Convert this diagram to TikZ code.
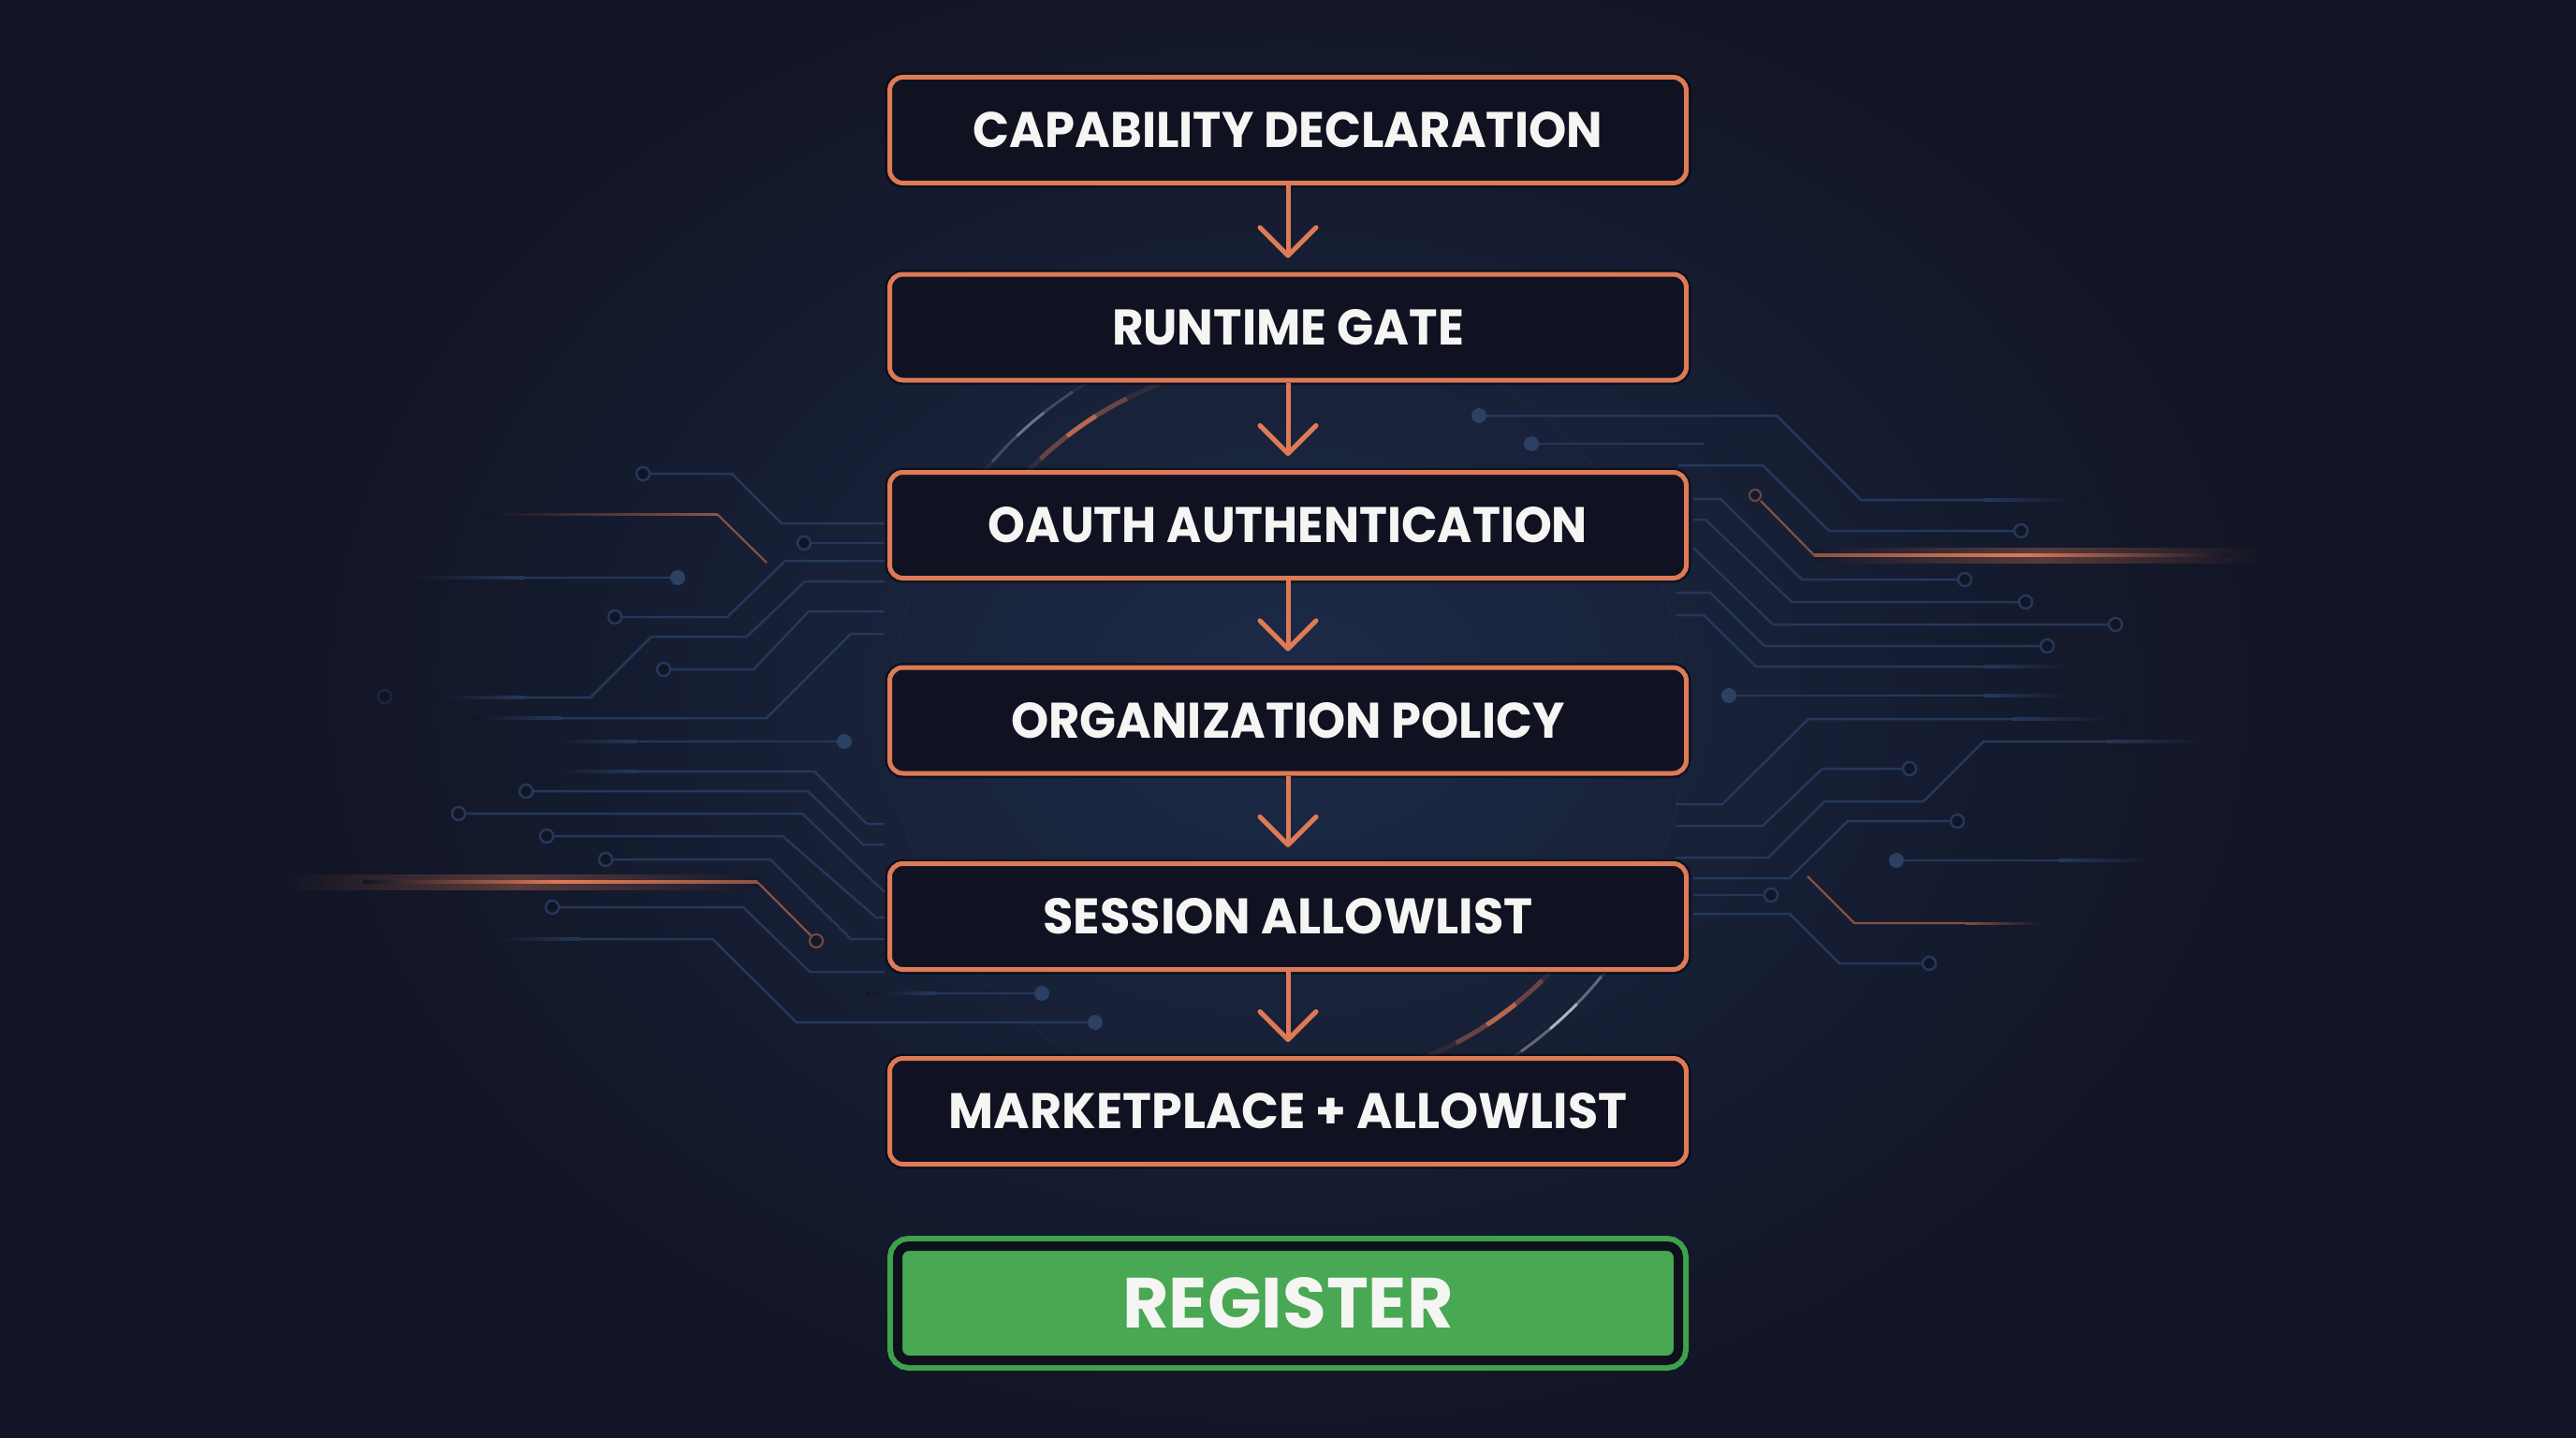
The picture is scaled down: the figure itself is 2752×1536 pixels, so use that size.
\documentclass[tikz,border=0pt]{standalone}
\usepackage{fontspec}
\usepackage{graphicx}
\setmainfont{Poppins}
\usetikzlibrary{arrows.meta}
\definecolor{bg}{RGB}{18,21,37}
\definecolor{boxfill}{RGB}{16,18,33}
\definecolor{glow}{RGB}{28,43,72}
\definecolor{orng}{RGB}{222,122,86}
\definecolor{trace}{RGB}{37,56,90}
\definecolor{dotc}{RGB}{44,64,100}
\definecolor{grn}{RGB}{72,168,83}
\definecolor{grnb}{RGB}{62,162,76}
\definecolor{gapc}{RGB}{14,16,30}
\definecolor{txt}{RGB}{245,245,243}
\newcommand\lab[3]{\resizebox{#1pt}{#2pt}{\bfseries #3}}
\newcommand\ltail[3]{\shade[left color=bg,right color=trace] (#1,{#3-1.25}) rectangle (#2,{#3+1.25});}
\newcommand\rtail[3]{\shade[left color=trace,right color=bg] (#1,{#3-1.25}) rectangle (#2,{#3+1.25});}
\newcommand\farc[5]{%
  \foreach \i/\o in {0/0.12,1/0.4,2/0.8,3/0.4,4/0.12}{%
    \draw[#1, line width=#5, opacity=\o] ([shift={({#3+\i*(#4-#3)/5}:#2)}]1376,770)
      arc[start angle={#3+\i*(#4-#3)/5}, end angle={#3+(\i+1)*(#4-#3)/5}, radius=#2];}}
\tikzset{
  stage/.style={draw=orng, line width=5pt, fill=boxfill, rounded corners=14pt,
    minimum width=851pt, minimum height=113pt, inner sep=0pt, text=txt,
    preaction={draw=black, draw opacity=0.45, line width=10pt}},
  regbox/.style={fill=grn, draw=gapc, line width=10pt, rounded corners=12pt,
    minimum width=834pt, minimum height=122pt, inner sep=0pt, text=txt,
    preaction={draw=grnb, line width=22pt}},
  flow/.style={draw=orng, line width=5pt, -{Straight Barb[length=30pt, width=60pt, round]}},
  tr/.style={draw=trace, line width=2.5pt, line join=round},
  otr/.style={draw=orng, line width=2.2pt, line join=round, opacity=0.55},
  ocirc/.style={draw=trace, line width=2.5pt, fill=bg},
  fdot/.style={fill=dotc},
}
\begin{document}
\begin{tikzpicture}[x=1pt,y=-1pt]
\useasboundingbox (0,0) rectangle (2752,1536);
\clip (0,0) rectangle (2752,1536);
% background
\fill[bg] (0,0) rectangle (2752,1536);
\shade[inner color=glow, outer color=bg] (1376,740) ellipse (1050 and 800);
% faint ring
\draw[trace, line width=2pt, opacity=0.2] (1376,770) circle (425);
% arcs (angles negated because the y axis points down)
\farc{orng}{385}{-111}{-139}{5pt}
\farc{trace!60!white}{420}{-118}{-144}{3pt}
\farc{orng}{388}{40}{68}{5pt}
\farc{white!80!trace}{432}{34}{60}{3pt}

% ---------- left traces ----------
\draw[tr] (945,559) -- (835,559) -- (782,506) -- (694,506);
\draw[ocirc] (687,506) circle (7);
\shade[left color=bg,right color=orng,opacity=0.6] (520,548) rectangle (766,550.5);
\draw[otr] (766,549) -- (819,601);
\draw[tr] (724,617) -- (560,617); \ltail{434}{560}{617}
\fill[fdot] (724,617) circle (8);
\draw[tr] (945,580) -- (866,580); \draw[ocirc] (859,580) circle (7);
\draw[tr] (945,599) -- (839,599) -- (777,659) -- (664,659); \draw[ocirc] (657,659) circle (7);
\draw[tr] (945,621) -- (860,621) -- (798,680) -- (696,680) -- (631,745) -- (560,745); \ltail{465}{560}{745}
\draw[tr] (945,653) -- (864,653) -- (805,715) -- (716,715); \draw[ocirc] (709,715) circle (7);
\draw[tr] (945,677) -- (909,677) -- (819,767) -- (600,767); \ltail{503}{600}{767}
\draw[tr] (902,792) -- (680,792); \ltail{580}{680}{792} \fill[fdot] (902,792) circle (8);
\draw[tr] (945,880) -- (926,880) -- (870,824) -- (680,824); \ltail{580}{680}{824}
\draw[tr] (945,902) -- (922,902) -- (863,845) -- (569,845); \draw[ocirc] (562,845) circle (7);
\draw[tr] (945,953) -- (857,869) -- (497,869); \draw[ocirc] (490,869) circle (7);
\draw[tr] (945,980) -- (936,980) -- (836,893) -- (591,893); \draw[ocirc] (584,893) circle (7);
\draw[tr] (945,1003) -- (909,1003) -- (823,918) -- (654,918); \draw[ocirc] (647,918) circle (7);
\draw[tr] (945,1038) -- (865,1038) -- (794,969) -- (597,969); \draw[ocirc] (590,969) circle (7);
\draw[tr] (1170,1092) -- (851,1092) -- (761,1003) -- (620,1003); \ltail{522}{620}{1003}
\fill[fdot] (1170,1092) circle (8);
\draw[tr] (1113,1061) -- (1000,1061); \ltail{925}{1000}{1061} \fill[fdot] (1113,1061) circle (8);
\draw[ocirc, opacity=0.5] (411,744) circle (7);
% left orange glow
\shade[left color=bg,right color=bg,middle color=orng,opacity=0.35] (300,934) rectangle (809,950);
\shade[left color=bg,right color=orng!60!bg,middle color=orng] (388,940.5) rectangle (809,943.5);
\draw[otr] (809,942) -- (866,999);
\draw[draw=orng, line width=2pt, opacity=0.5, fill=bg] (872,1005) circle (7);

% ---------- right traces ----------
\draw[tr] (1580,444) -- (1898,444) -- (1988,534) -- (2120,534); \rtail{2120}{2226}{534}
\fill[fdot] (1580,444) circle (8);
\draw[tr] (1636,474) -- (1820,474); \fill[fdot] (1636,474) circle (8);
\draw[tr] (1793,497) -- (1883,497) -- (1954,567) -- (2152,567); \draw[ocirc] (2159,567) circle (7);
\draw[otr] (1881,535) -- (1938,593);
\draw[draw=orng, line width=2pt, opacity=0.45, fill=bg] (1875,529) circle (6);
\shade[left color=bg,right color=bg,middle color=orng,opacity=0.35] (1938,585) rectangle (2420,601);
\shade[left color=orng!60!bg,right color=bg,middle color=orng] (1938,591.5) rectangle (2383,594.5);
\draw[tr] (1809,533) -- (1838,533) -- (1925,619) -- (2092,619); \draw[ocirc] (2099,619) circle (7);
\draw[tr] (1809,555) -- (1822,555) -- (1914,643) -- (2157,643); \draw[ocirc] (2164,643) circle (7);
\draw[tr] (1809,585) -- (1894,667) -- (2253,667); \draw[ocirc] (2260,667) circle (7);
\draw[tr] (1790,633) -- (1827,633) -- (1885,690) -- (2180,690); \draw[ocirc] (2187,690) circle (7);
\draw[tr] (1790,657) -- (1820,657) -- (1876,712) -- (2120,712); \rtail{2120}{2226}{712}
\draw[tr] (1847,743) -- (2120,743); \rtail{2120}{2226}{743} \fill[fdot] (1847,743) circle (8);
\draw[tr] (1790,859) -- (1840,859) -- (1932,768) -- (2150,768); \rtail{2150}{2271}{768}
\draw[tr] (1790,882) -- (1883,882) -- (1947,821) -- (2033,821); \draw[ocirc] (2040,821) circle (7);
\draw[tr] (1790,916) -- (1889,916) -- (1949,856) -- (2055,856) -- (2119,792) -- (2250,792); \rtail{2250}{2360}{792}
\draw[tr] (1809,938) -- (1912,938) -- (1974,877) -- (2084,877); \draw[ocirc] (2091,877) circle (7);
\draw[tr] (2026,919) -- (2200,919); \rtail{2200}{2307}{919} \fill[fdot] (2026,919) circle (8);
\draw[tr] (1809,956) -- (1885,956); \draw[ocirc] (1892,956) circle (7);
\draw[otr] (1931,936) -- (1981,986) -- (2100,986);
\shade[left color=orng,right color=bg,opacity=0.55] (2100,985) rectangle (2182,987.5);
\draw[tr] (1809,976) -- (1912,976) -- (1965,1029) -- (2054,1029); \draw[ocirc] (2061,1029) circle (7);

% ---------- stages ----------
\node[stage] (s1) at (1376,139)  {\lab{672}{38}{CAPABILITY DECLARATION}};
\node[stage] (s2) at (1376,349.5){\lab{376}{38}{RUNTIME GATE}};
\node[stage] (s3) at (1376,561)  {\lab{640}{38}{OAUTH AUTHENTICATION}};
\node[stage] (s4) at (1376,769.5){\lab{591}{38}{ORGANIZATION POLICY}};
\node[stage] (s5) at (1376,979)  {\lab{523}{38}{SESSION ALLOWLIST}};
\node[stage] (s6) at (1376,1187) {\lab{724}{38}{MARKETPLACE + ALLOWLIST}};
\node[regbox] (reg) at (1376,1392) {\lab{353}{54}{REGISTER}};

\draw[flow] (s1.south) -- ([yshift=15pt]s2.north);
\draw[flow] (s2.south) -- ([yshift=15pt]s3.north);
\draw[flow] (s3.south) -- ([yshift=15pt]s4.north);
\draw[flow] (s4.south) -- ([yshift=15pt]s5.north);
\draw[flow] (s5.south) -- ([yshift=15pt]s6.north);
\end{tikzpicture}
\end{document}
